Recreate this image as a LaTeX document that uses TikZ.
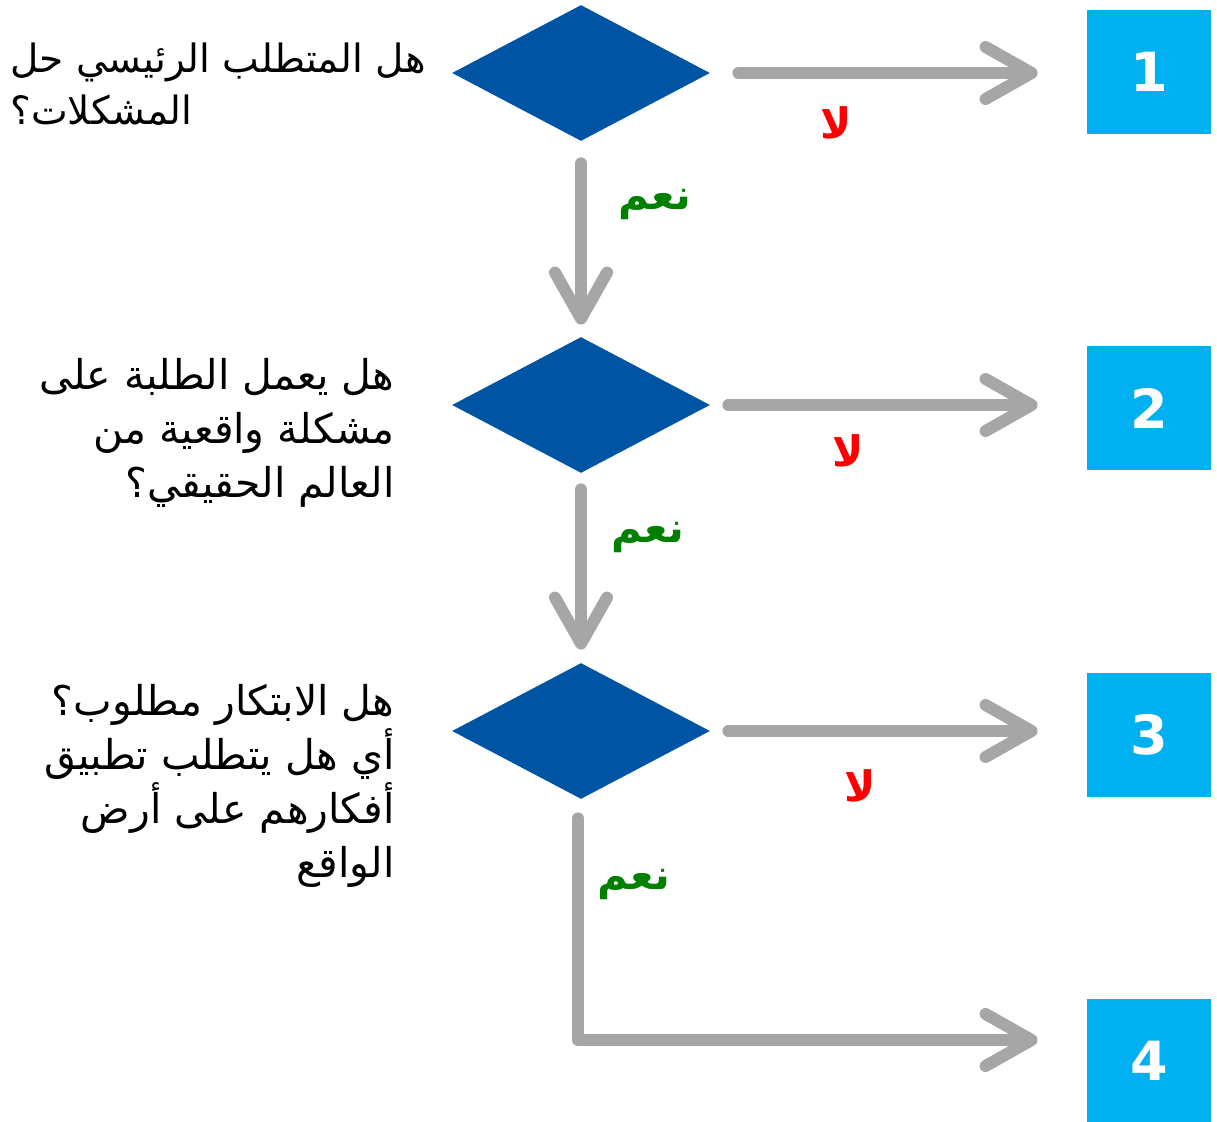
\documentclass[tikz,border=0pt]{standalone}
\usepackage{fontspec}
\setsansfont{DejaVu Sans}
\newfontfamily\arabicfont[Script=Arabic]{DejaVu Sans}
\TeXXeTstate=1
\usetikzlibrary{shapes.geometric,arrows.meta,positioning}
\definecolor{qblue}{HTML}{0054A4}
\definecolor{numcyan}{HTML}{00B0F0}
\definecolor{flowgray}{HTML}{A6A6A6}
\definecolor{yesgreen}{HTML}{008000}
\newcommand{\ar}[1]{\beginR #1\endR}
\begin{document}
\begin{tikzpicture}[x=0.5pt, y=-0.5pt,
    quest/.style={diamond, fill=qblue, inner sep=0pt, minimum width=129pt, minimum height=68pt},
    numbox/.style={fill=numcyan, minimum size=62pt, inner sep=0pt, text=white, font=\sffamily\bfseries\fontsize{27}{27}\selectfont},
    flow/.style={draw=flowgray, line width=6pt, line cap=round, line join=round,
        -{Straight Barb[length=23pt, width=26pt, round]}},
    qtext/.style={font=\arabicfont\fontsize{20.5}{27}\selectfont, inner sep=0pt},
    nolabel/.style={font=\arabicfont\bfseries\fontsize{21}{21}\selectfont, text=red},
    yeslabel/.style={font=\arabicfont\bfseries\fontsize{21}{21}\selectfont, text=yesgreen}]
    \useasboundingbox (0,0) rectangle (1217,1122);
    % questions
    \node[quest] (q1) at (581,73) {};
    \node[quest] (q2) at (581,405) {};
    \node[quest] (q3) at (581,731) {};
    % outcomes
    \foreach \i/\y in {1/72, 2/408, 3/735, 4/1061}{
        \node[numbox] (n\i) at (1149,\y) {\i};}
    % texts
    \node[qtext, font=\arabicfont\fontsize{19.5}{26}\selectfont, anchor=west, align=left] (t1) at (10,84) {\ar{هل المتطلب الرئيسي حل}\\\ar{المشكلات؟}};
    \node[qtext, anchor=east, align=right] (t2) at (395,433) {\ar{هل يعمل الطلبة على}\\\ar{مشكلة واقعية من}\\\ar{العالم الحقيقي؟}};
    \node[qtext, anchor=east, align=right] (t3) at (395,786) {\ar{هل الابتكار مطلوب؟}\\\ar{أي هل يتطلب تطبيق}\\\ar{أفكارهم على أرض}\\\ar{الواقع}};
    % no
    \draw[flow, shorten <=14pt, shorten >=24.5pt] (q1.east) -- (q1.east -| n1.west);
    \draw[flow, shorten <=9pt, shorten >=24.5pt] (q2.east) -- (q2.east -| n2.west);
    \draw[flow, shorten <=9pt, shorten >=24.5pt] (q3.east) -- (q3.east -| n3.west);
    \node[nolabel] (no1) at (836,123) {\ar{لا}};
    \node[nolabel] (no2) at (848,451) {\ar{لا}};
    \node[nolabel] (no3) at (860,786) {\ar{لا}};
    % yes
    \draw[flow, shorten <=11pt, shorten >=6pt] (q1.south) -- (q2.north);
    \draw[flow, shorten <=8pt, shorten >=6.5pt] (q2.south) -- (q3.north);
    \draw[flow, shorten <=9.5pt, shorten >=24.5pt] ([xshift=-1.5pt]q3.south) |- ([yshift=10.5pt]n4.west);
    \node[yeslabel] (yes1) at (655,205) {\ar{نعم}};
    \node[yeslabel] (yes2) at (648,538) {\ar{نعم}};
    \node[yeslabel] (yes3) at (634,885) {\ar{نعم}};
\end{tikzpicture}
\end{document}
